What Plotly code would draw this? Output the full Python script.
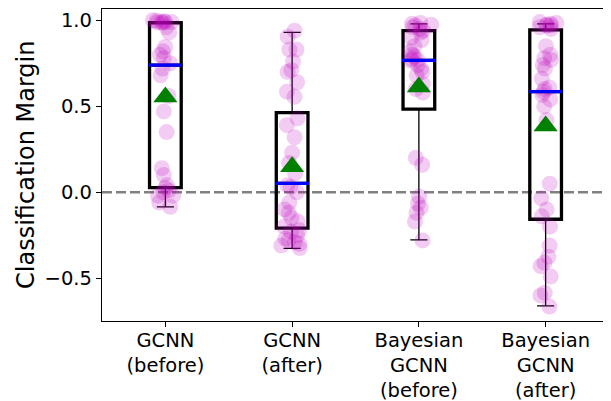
import plotly.graph_objects as go

# ---------------- data ----------------
categories = ["GCNN<br>(before)", "GCNN<br>(after)",
              "Bayesian<br>GCNN<br>(before)", "Bayesian<br>GCNN<br>(after)"]
positions = [1, 2, 3, 4]
y_title = "Classification Margin"

gcnn_before = [0.99, 0.995, 1.0, 0.99, 0.985, 0.99, 0.997, 0.988,
               0.96, 0.93, 0.845, 0.82, 0.80, 0.78, 0.75, 0.72, 0.68,
               0.56, 0.47, 0.35, 0.14, 0.10, 0.04, 0.025, 0.01, 0.00,
               -0.02, -0.02, -0.06, -0.085]
gcnn_after = [0.94, 0.905, 0.83, 0.83, 0.76, 0.70, 0.71, 0.64, 0.585, 0.555,
              0.43, 0.39, 0.32, 0.23, 0.17, 0.11, 0.04, 0.03, 0.00,
              -0.06, -0.10, -0.12, -0.15, -0.17, -0.20, -0.22, -0.23, -0.25,
              -0.27, -0.28, -0.29, -0.30, -0.31, -0.325]
bayes_before = [0.985, 0.98, 0.975, 0.97, 0.96, 0.95, 0.94, 0.93,
                0.90, 0.885, 0.85, 0.82, 0.80, 0.79, 0.775, 0.77,
                0.765, 0.74, 0.72, 0.70, 0.68, 0.63, 0.60, 0.58,
                0.20, 0.16, -0.025, -0.065, -0.09, -0.12, -0.17, -0.28]
bayes_after = [0.99, 0.985, 0.98, 0.975, 0.97, 0.97, 0.96, 0.95, 0.85,
               0.80, 0.78, 0.77, 0.74, 0.72, 0.66, 0.61, 0.60, 0.585, 0.566,
               0.54, 0.50, 0.42, 0.05, -0.035, -0.10, -0.14, -0.20, -0.31,
               -0.375, -0.41, -0.43, -0.49, -0.585, -0.60, -0.665]

q1 = [0.027, -0.209, 0.484, -0.157]
median = [0.74, 0.052, 0.767, 0.585]
q3 = [0.986, 0.463, 0.94, 0.944]
whisker_low = [-0.085, -0.326, -0.277, -0.661]
whisker_high = [0.99, 0.93, 0.98, 0.98]
means = [0.554, 0.149, 0.612, 0.385]

y_ticks = [-0.5, 0.0, 0.5, 1.0]
y_range = [-0.749, 1.066]
x_range = [0.5, 4.5]

# ---------------- figure ----------------
groups = [gcnn_before, gcnn_after, bayes_before, bayes_after]
BOX_W = 0.25
FONT = "DejaVu Sans"

fig = go.Figure()

# thin box (gives whiskers + caps)
fig.add_trace(go.Box(
    x=positions, q1=q1, median=median, q3=q3,
    lowerfence=whisker_low, upperfence=whisker_high,
    width=BOX_W, whiskerwidth=0.54, boxpoints=False,
    line=dict(color="black", width=1.3), fillcolor="rgba(0,0,0,0)",
    hoverinfo="skip", showlegend=False))

# thick box body (zero-length whiskers)
fig.add_trace(go.Box(
    x=positions, q1=q1, median=median, q3=q3,
    lowerfence=q1, upperfence=q3,
    width=BOX_W, whiskerwidth=0.0, boxpoints=False,
    line=dict(color="black", width=3.3), fillcolor="rgba(0,0,0,0)",
    hoverinfo="skip", showlegend=False))

# jittered sample points
px, py = [], []
for p, g in zip(positions, groups):
    px += [p] * len(g)
    py += g
fig.add_trace(go.Box(
    x=px, y=py, boxpoints="all", jitter=0.85, pointpos=0,
    width=BOX_W, line=dict(color="rgba(0,0,0,0)", width=0),
    fillcolor="rgba(0,0,0,0)",
    marker=dict(color="rgba(191,0,191,0.2)", size=16, line=dict(width=0)),
    hoverinfo="y", showlegend=False))

# medians (blue)
mx, my = [], []
for p, m in zip(positions, median):
    mx += [p - BOX_W / 2 - 0.008, p + BOX_W / 2 + 0.008, None]
    my += [m, m, None]
fig.add_trace(go.Scatter(x=mx, y=my, mode="lines",
                         line=dict(color="blue", width=3.3),
                         hoverinfo="skip", showlegend=False))

# means (green triangles)
fig.add_trace(go.Scatter(x=positions, y=means, mode="markers",
                         marker=dict(symbol="triangle-up", color="green",
                                     size=21, line=dict(width=0)),
                         showlegend=False))

fig.add_hline(y=0, line=dict(color="gray", width=2.7, dash="10px,4px"),
              layer="below")

# y-axis title as a rotated annotation for precise placement
fig.add_annotation(text=y_title, xref="paper", yref="paper",
                   x=-0.150, y=0.5, xanchor="center", yanchor="middle",
                   textangle=-90, showarrow=False,
                   font=dict(family=FONT, size=24, color="black"))

axis_common = dict(showline=True, mirror=True, linecolor="black", linewidth=1.3,
                   ticks="outside", ticklen=5, tickwidth=1.3, tickcolor="black",
                   showgrid=False, zeroline=False, automargin=False,
                   tickfont=dict(family=FONT, size=19.5, color="black"))

# the page body adds an 8px offset, so the figure is sized to fit the window
fig.update_layout(
    width=603, height=393,
    margin=dict(l=94, r=2, t=1, b=80, autoexpand=False),
    paper_bgcolor="white", plot_bgcolor="white",
    boxmode="overlay",
    font=dict(family=FONT, color="black"),
    xaxis=dict(range=x_range, tickvals=positions, ticktext=categories,
               ticklabelstandoff=-4, **axis_common),
    yaxis=dict(range=y_range, tickvals=y_ticks, tickformat=".1f",
               **axis_common),
)

fig.write_html("out.html")
